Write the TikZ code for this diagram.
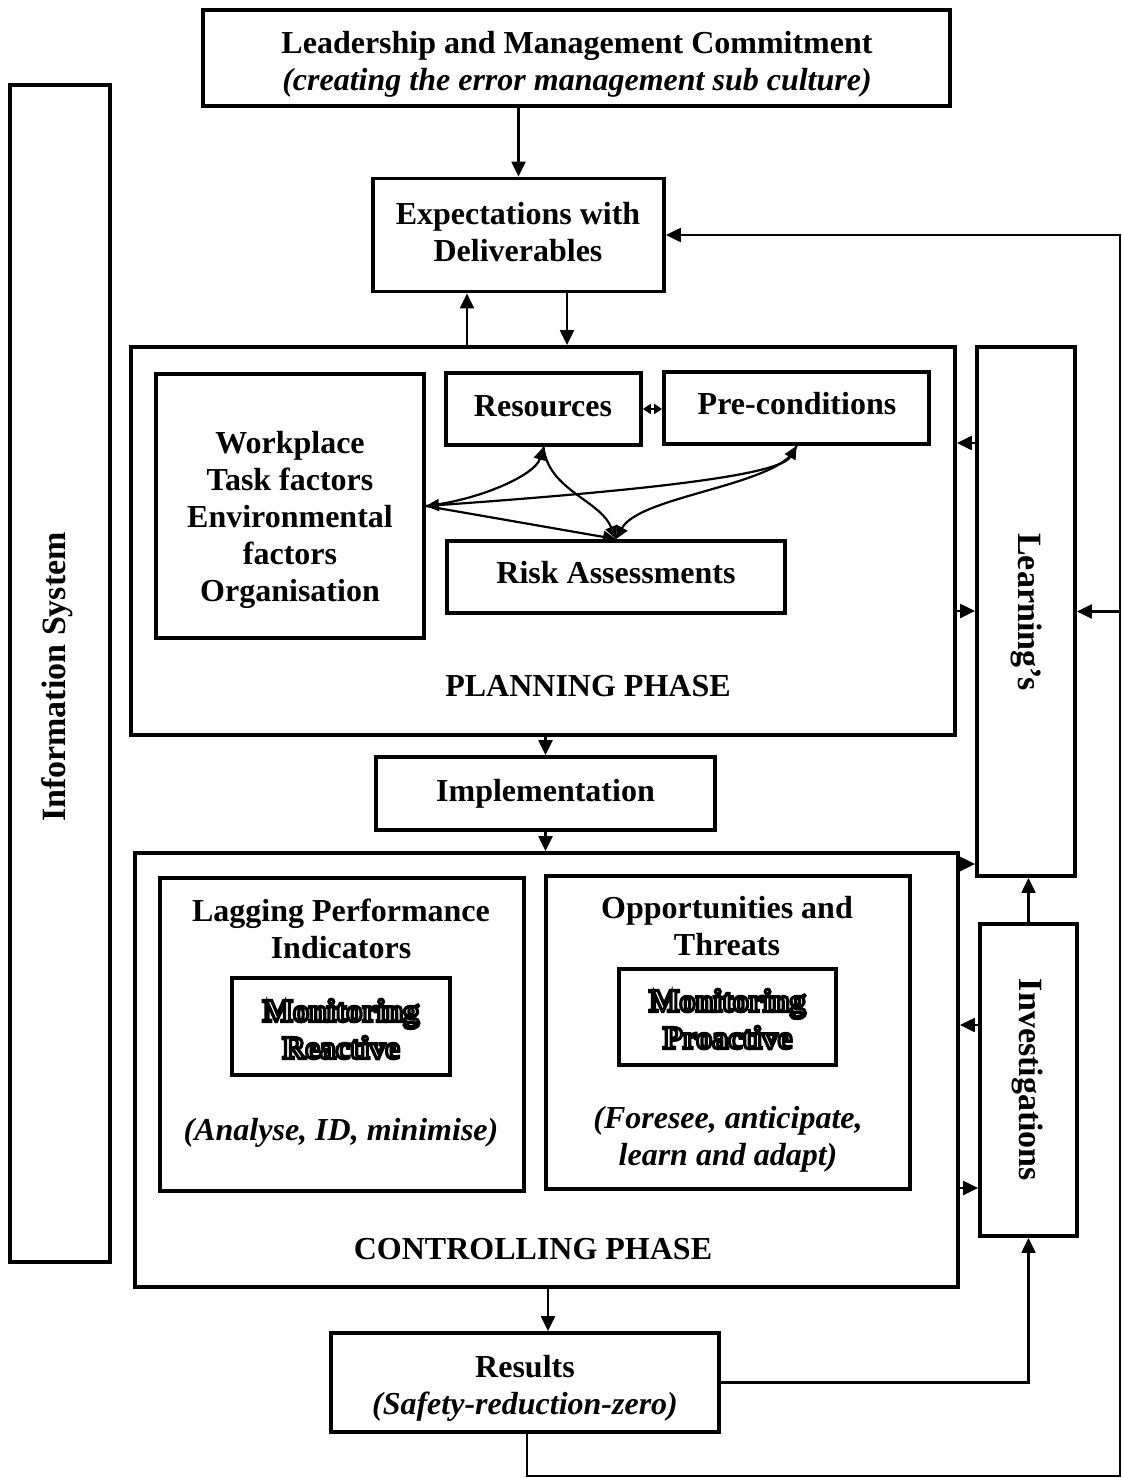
\documentclass[tikz,border=0pt]{standalone}
\usepackage{fontspec}
\setmainfont{Liberation Serif}
\newfontface\hollowface{Liberation Serif Bold}[FakeBold=10]
\usetikzlibrary{arrows.meta}

% outlined (hollow) lettering: white fill, heavy black stroke
\newcommand\hollowline[1]{{\hollowface\special{pdf:bcolor [1] [0]}#1\special{pdf:ecolor}}}

\begin{document}
\begin{tikzpicture}[x=0.5pt,y=-0.5pt,
  box/.style={draw, line width=1.9pt, inner sep=0pt},
  sz/.style 2 args={minimum width=#1*0.5pt, minimum height=#2*0.5pt},
  lbl/.style={inner sep=0pt, align=center, font=\bfseries\fontsize{16}{18.5}\selectfont},
  ilbl/.style={lbl, font=\bfseries\itshape\fontsize{16}{18.5}\selectfont},
  vlbl/.style={inner sep=0pt, font=\bfseries\fontsize{17}{20}\selectfont},
  conn/.style={line width=1.1pt},
  arr/.style={conn, -{Triangle[length=7.5pt,width=7pt]}},
  carr/.style={conn, -{Triangle[length=6.5pt,width=6pt]}},
  dcarr/.style={conn, {Triangle[length=6.5pt,width=6pt]}-{Triangle[length=6.5pt,width=6pt]}},
  tinyarr/.style={conn, {Triangle[length=4pt,width=5pt]}-{Triangle[length=4pt,width=5pt]}}
]
\useasboundingbox (0,0) rectangle (1122,1478);

% ---- top of the chain
\node[box, sz={747}{96}] (lead) at (576.5,58) {};
\node[lbl] (leadT) at (577,64)
  {Leadership and Management Commitment\\\textit{(creating the error management sub culture)}};
\node[box, sz={291}{113}] (expt) at (518.5,235) {};
\node[lbl] (exptT) at (518,232) {Expectations with\\Deliverables};

% ---- information system column
\node[box, sz={100}{1177}] (info) at (60,673.5) {};
\node[vlbl, rotate=90] (infoT) at (57,677) {Information System};

% ---- planning phase
\node[box, sz={824}{388}] (plan) at (543,541) {};
\node[lbl] (planT) at (588,686) {PLANNING PHASE};
\node[box, sz={268}{264}] (work) at (290,506) {};
\node[lbl] (workT) at (290,520) {Workplace\\Task factors\\Environmental\\factors\\Organisation};
\node[box, sz={195}{72}] (res) at (543.5,409) {};
\node[lbl] (resT) at (543,406) {Resources};
\node[box, sz={265}{72}] (pre) at (796.5,408) {};
\node[lbl] (preT) at (797,404) {Pre-conditions};
\node[box, sz={338}{72}] (risk) at (616,577) {};
\node[lbl] (riskT) at (616,573) {Risk Assessments};

% ---- learning column
\node[box, sz={98}{529}] (learn) at (1026,611.5) {};
\node[vlbl, rotate=-90] (learnT) at (1027,612) {Learning’s};

% ---- implementation
\node[box, sz={339}{73}, lbl] (impl) at (545.5,793.5) {Implementation};

% ---- controlling phase
\node[box, sz={823}{434}] (ctrl) at (546.5,1070) {};
\node[lbl] (ctrlT) at (533,1249) {CONTROLLING PHASE};
\node[box, sz={364}{313}] (lag) at (342,1034.5) {};
\node[lbl] (lagT) at (341,929) {Lagging Performance\\Indicators};
\node[box, sz={218}{97}] (monR) at (341,1026.5) {};
\node[lbl] (monRT) at (341,1029) {\hollowline{Monitoring}\\\hollowline{Reactive}};
\node[ilbl] (lagI) at (341,1133) {(Analyse, ID, minimise)};
\node[box, sz={364}{313}] (opp) at (728,1032.5) {};
\node[lbl] (oppT) at (727,926) {Opportunities and\\Threats};
\node[box, sz={217}{96}] (monP) at (727.5,1017) {};
\node[lbl] (monPT) at (727.5,1019) {\hollowline{Monitoring}\\\hollowline{Proactive}};
\node[ilbl] (oppI) at (728,1139) {(Foresee, anticipate,\\learn and adapt)};

% ---- investigations column
\node[box, sz={97}{312}] (inv) at (1028.5,1080) {};
\node[vlbl, rotate=-90] (invT) at (1028,1080) {Investigations};

% ---- results
\node[box, sz={388}{99}] (rbox) at (525,1382.5) {};
\node[lbl] (rboxT) at (525,1388) {Results\\\textit{(Safety-reduction-zero)}};

% ---- helper positions for connectors
\coordinate (cUp) at (467,0);
\coordinate (cDn) at (567,0);
\coordinate (cRes) at (548,0);
\coordinate (cFb) at (527,0);
\coordinate (yA) at (0,443);
\coordinate (yB) at (0,611);
\coordinate (yC) at (0,864);
\coordinate (yD) at (0,1025);
\coordinate (yE) at (0,1188);
\coordinate (fbR) at (1120,1476);

% ---- main chain
\draw[arr] (expt.north |- lead.south) -- (expt.north);
\draw[arr] (cUp |- plan.north) -- (cUp |- expt.south);
\draw[arr] (cDn |- expt.south) -- (cDn |- plan.north);
\draw[arr] (impl.north |- plan.south) -- (impl.north);
\draw[arr] (impl.south) -- (impl.south |- ctrl.north);
\draw[arr] (cRes |- ctrl.south) -- (cRes |- rbox.north);

% ---- feedback loop from the results
\draw[arr] (cFb |- rbox.south) |- (fbR) |- (expt.east);
\draw[arr] (fbR |- learn.east) -- (learn.east);

% ---- learning and investigations links
\draw[arr] (learn.west |- yA) -- (plan.east |- yA);
\draw[arr] (plan.east |- yB) -- (learn.west |- yB);
\draw[arr] (ctrl.east |- yC) -- (learn.west |- yC);
\draw[arr] (inv.north) -- (inv.north |- learn.south);
\draw[arr] (inv.west |- yD) -- (ctrl.east |- yD);
\draw[arr] (ctrl.east |- yE) -- (inv.west |- yE);
\draw[arr] (rbox.east) -| (inv.south);

% ---- links inside the planning phase
\draw[tinyarr] (res.east) -- (res.east -| pre.west);
\draw[carr] (work.east) .. controls (480,500) and (535,475) .. (res.south);
\draw[carr] (res.south) .. controls (548,490) and (600,500) .. (risk.north);
\draw[carr] (pre.south) .. controls (785,485) and (640,495) .. (risk.north);
\draw[dcarr] (work.east) .. controls (650,490) and (780,475) .. (pre.south);
\draw[carr] (work.east) -- (risk.north);
\end{tikzpicture}
\end{document}
